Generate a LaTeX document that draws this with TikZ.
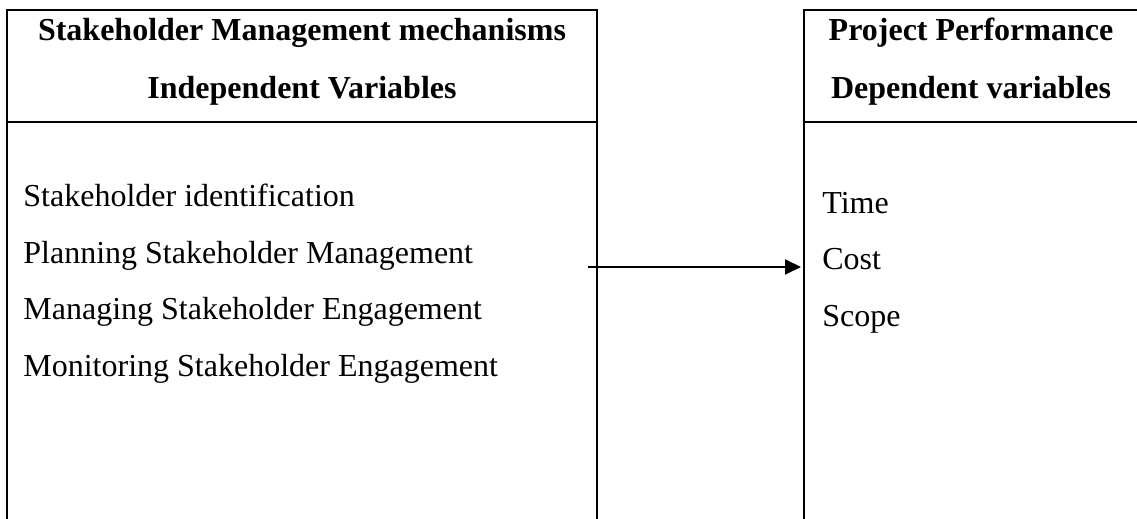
\documentclass[tikz,border=0pt]{standalone}
\usepackage{fontspec}
\setmainfont{Liberation Serif}
\usetikzlibrary{arrows.meta,positioning}

\begin{document}
\begin{tikzpicture}[x=0.5pt, y=-0.5pt, >={Triangle[length=8pt,width=7.5pt]},
  frame/.style={line width=1pt},
  head/.style={font=\bfseries\fontsize{16}{29}\selectfont, align=center, inner sep=0pt},
  item/.style={font=\fontsize{16}{28.5}\selectfont, align=left, inner sep=0pt}]
  \useasboundingbox (0,0) rectangle (1137,519);
  % left frame (independent variables), open at the bottom
  \draw[frame] (7,525) |- (597,10) -- (597,525);
  \draw[frame] (7,122) -- (597,122);
  % right frame (dependent variables), runs off the right edge
  \draw[frame] (804,525) |- (1145,10);
  \draw[frame] (804,122) -- (1145,122);
  % headings (base = last line)
  \node[head, anchor=base] (indep) at (302,99) {Stakeholder Management mechanisms\\ Independent Variables};
  \node[head, anchor=base] (dep) at (971,99) {Project Performance\\ Dependent variables};
  % variables
  \node[item, anchor=base west] (mech) at (23,377) {Stakeholder identification\\ Planning Stakeholder Management\\ Managing Stakeholder Engagement\\ Monitoring Stakeholder Engagement};
  \node[item, anchor=base west] (perf) at (822,327) {Time\\ Cost\\ Scope};
  % link between the two blocks
  \coordinate (src) at (588,267);
  \coordinate (dst) at (801,267);
  \draw[->, line width=1pt] (src) -- (dst);
\end{tikzpicture}
\end{document}
